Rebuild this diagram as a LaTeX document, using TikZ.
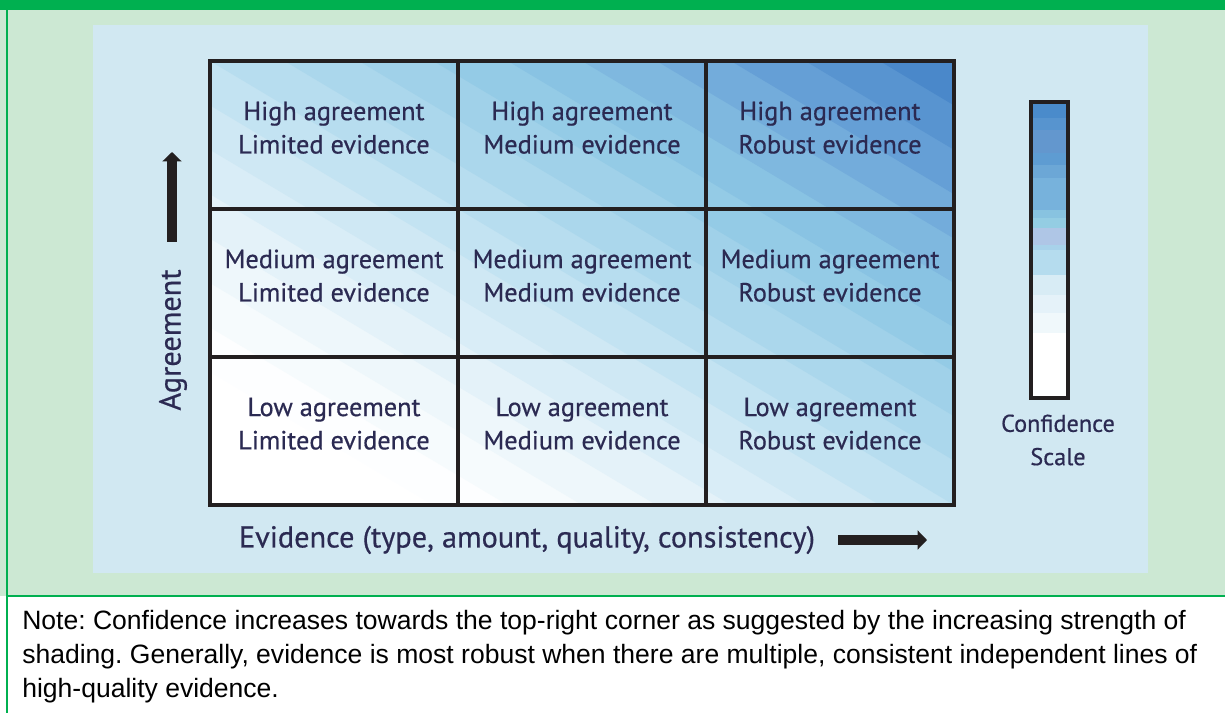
\documentclass[tikz,border=0pt]{standalone}
\usepackage{fontspec}
\newfontfamily\cellfont[FakeBold=0.5]{PT Sans}
\newfontfamily\notefont{Liberation Sans}
\usetikzlibrary{arrows.meta}
\definecolor{topgreen}{HTML}{00B050}
\definecolor{bggreen}{HTML}{CCE8D3}
\definecolor{panelblue}{HTML}{D1E8F2}
\definecolor{ink}{HTML}{231F20}
\definecolor{navy}{HTML}{2B2A52}
\frenchspacing
\begin{document}
\begin{tikzpicture}[x=0.75pt,y=-0.75pt,
  cellbox/.style={draw=ink, line width=2.4pt, minimum width=186pt, minimum height=111pt, inner sep=0pt},
  celltext/.style={align=center, inner sep=0pt, text=navy, font=\cellfont\fontsize{19.75}{25}\selectfont},
  scaletext/.style={align=center, inner sep=0pt, text=navy, font=\cellfont\fontsize{18.2}{25}\selectfont},
  axislabel/.style={inner sep=0pt, text=navy, font=\cellfont\fontsize{22.7}{26}\selectfont},
  notetext/.style={inner sep=0pt, anchor=base west, font=\notefont\fontsize{19.9}{25.5}\selectfont},
  bigarrow/.style={draw=ink, line width=7.5pt, -{Triangle[width=14pt,length=7pt]}}]
\useasboundingbox (0,0) rectangle (1225,713);
% backgrounds
\fill[bggreen] (0,0) rectangle (1225,596);
\fill[white] (0,596) rectangle (1225,713);
\fill[topgreen] (0,0) rectangle (1225,10);
\draw[topgreen, line width=1.5pt] (7,10) -- (7,713);
\draw[topgreen, line width=1.5pt] (7,596) -- (1225,596);
\fill[panelblue] (93,25) rectangle (1148,573);
% grid shading
\begin{scope}[shift={(210,505)}, x={(558pt,0pt)}, y={(0pt,333pt)}]
  \clip (0,0) rectangle (1,1);
  \foreach \c [count=\i from 0] in {FFFFFF,FFFFFF,FFFFFF,FDFEFF,F6FBFD,EEF7FB,E4F2F9,D9EDF7,CFE8F4,C3E3F2,B7DDEF,ABD7EC,A0D1E9,94CBE6,89C3E3,7FB8DF,73ACDB,659FD6,5894D0,4A88CA}{
    \definecolor{bandc}{HTML}{\c}
    \fill[bandc] ({2*\i/20},0) -- ({2*(\i+1)/20+0.01},0) -- (0,{2*(\i+1)/20+0.01}) -- (0,{2*\i/20}) -- cycle;
  }
\end{scope}
% cells
\node[cellbox] (c11) at (334,135) {};
\node[cellbox] (c12) at (582,135) {};
\node[cellbox] (c13) at (830,135) {};
\node[cellbox] (c21) at (334,283) {};
\node[cellbox] (c22) at (582,283) {};
\node[cellbox] (c23) at (830,283) {};
\node[cellbox] (c31) at (334,431) {};
\node[cellbox] (c32) at (582,431) {};
\node[cellbox] (c33) at (830,431) {};
\node[celltext] (t11) at ([yshift=5.5pt]c11.center) {High agreement\\Limited evidence};
\node[celltext] (t12) at ([yshift=5.5pt]c12.center) {High agreement\\Medium evidence};
\node[celltext] (t13) at ([yshift=5.5pt]c13.center) {High agreement\\Robust evidence};
\node[celltext] (t21) at ([yshift=5.5pt]c21.center) {Medium agreement\\Limited evidence};
\node[celltext] (t22) at ([yshift=5.5pt]c22.center) {Medium agreement\\Medium evidence};
\node[celltext] (t23) at ([yshift=5.5pt]c23.center) {Medium agreement\\Robust evidence};
\node[celltext] (t31) at ([yshift=5.5pt]c31.center) {Low agreement\\Limited evidence};
\node[celltext] (t32) at ([yshift=5.5pt]c32.center) {Low agreement\\Medium evidence};
\node[celltext] (t33) at ([yshift=5.5pt]c33.center) {Low agreement\\Robust evidence};
% axes
\node[axislabel, rotate=90] (agr) at (173,340) {Agreement};
\coordinate (ya0) at (172,242);
\coordinate (ya1) at (172,152);
\draw[bigarrow] (ya0) -- (ya1);
\node[axislabel] (evi) at (527,540) {Evidence (type, amount, quality, consistency)};
\coordinate (xa0) at (838,540);
\coordinate (xa1) at (927,540);
\draw[bigarrow] (xa0) -- (xa1);
% confidence scale
\foreach \a/\b/\c in {102/118/4A8BCB,118/130/5794CF,130/153/6397CE,153/165/5E9CD2,165/178/6CA7D6,178/210/77B2DC,210/218/88C3E0,218/228/94CDE3,228/245/AFC6E6,245/250/A8D2EA,250/275/B5DCEE,275/295/D8ECF5,295/313/E5F2F9,313/333/F0F8FB,333/398/FFFFFF}{
  \definecolor{scc}{HTML}{\c}
  \fill[scc] (1031,\a) rectangle (1068,\b);
}
\node[draw=ink, line width=2.6pt, minimum width=27.75pt, minimum height=222pt, inner sep=0pt] (scale) at (1049.5,250) {};
\node[scaletext] (scl) at (1058,440) {Confidence\\Scale};
% note
\node[notetext] (n1) at (22,629) {Note: Confidence increases towards the top-right corner as suggested by the increasing strength of};
\node[notetext] (n2) at (22,663) {shading. Generally, evidence is most robust when there are multiple, consistent independent lines of};
\node[notetext] (n3) at (22,697) {high-quality evidence.};
\end{tikzpicture}
\end{document}
